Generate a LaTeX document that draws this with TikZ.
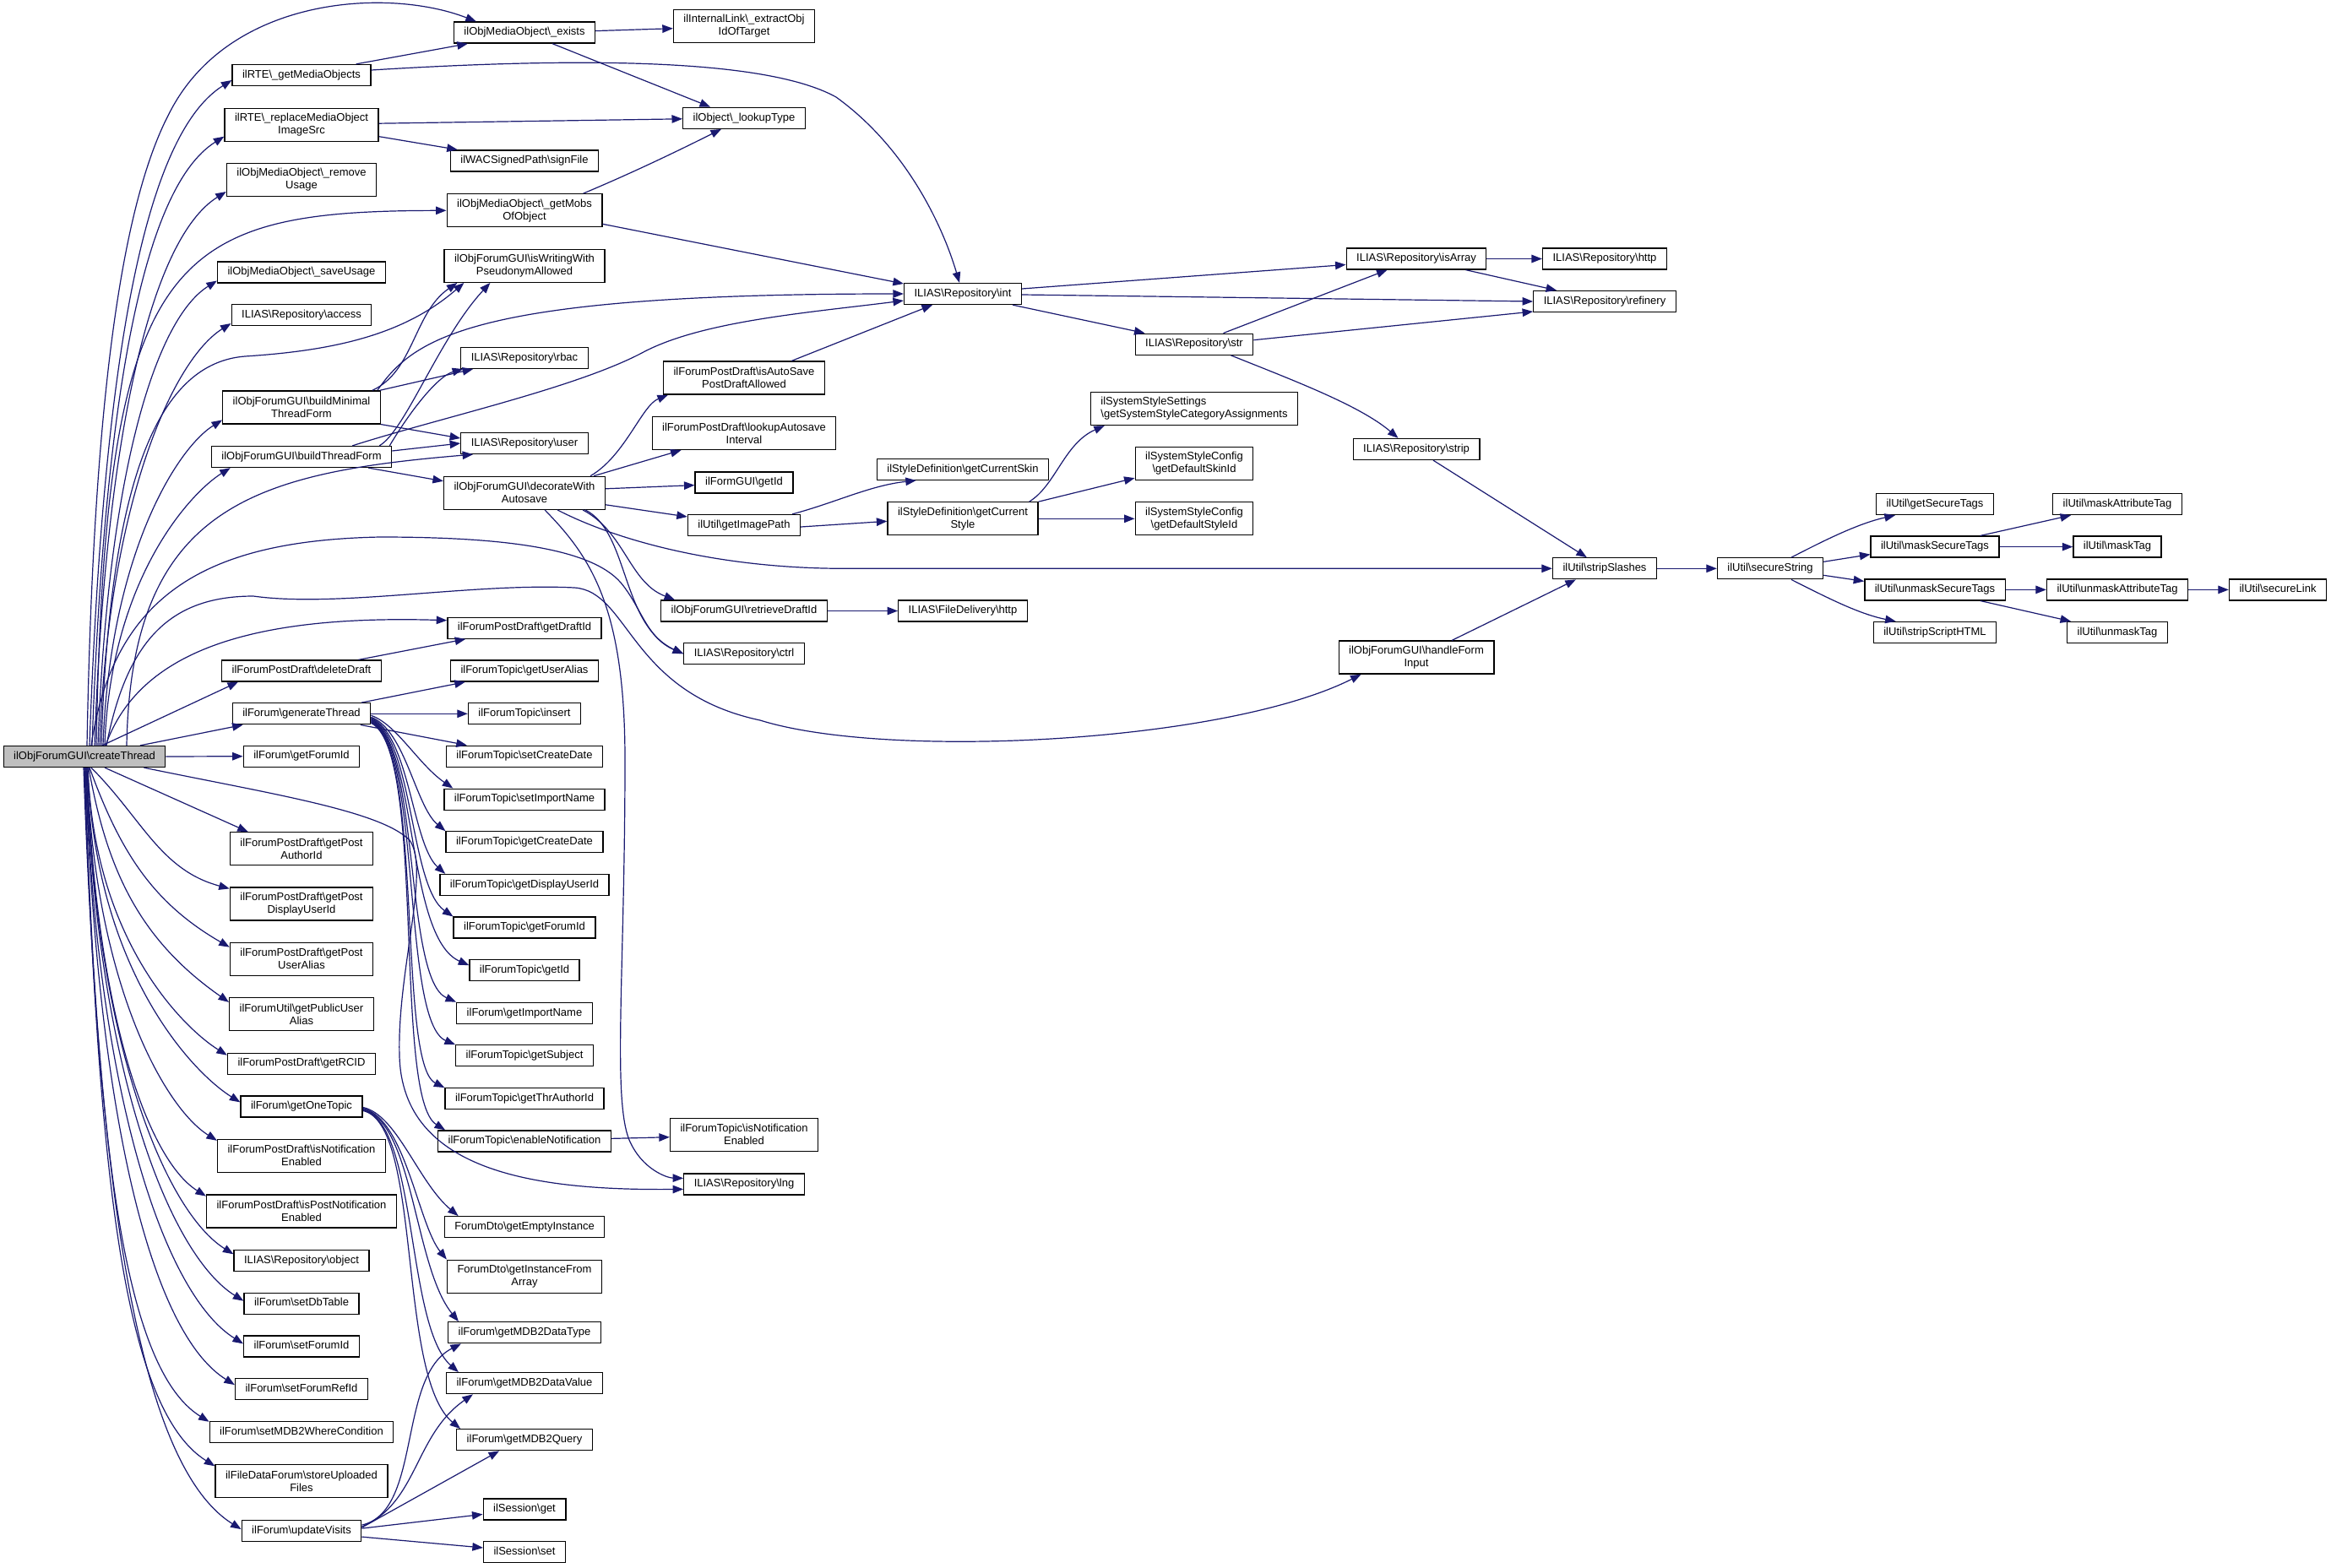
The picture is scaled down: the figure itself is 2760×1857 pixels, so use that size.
\documentclass[tikz,border=0pt]{standalone}
\usepackage{fontspec}
\setmainfont{Liberation Sans}
\usetikzlibrary{arrows.meta}
\definecolor{edgecol}{HTML}{191970}
\definecolor{ctfill}{HTML}{BFBFBF}
\newcommand\bsl{\textbackslash}
\begin{document}
\begin{tikzpicture}[x=1pt,y=1pt,
  box/.style={draw=black,line width=1.3pt,fill=white,inner xsep=12pt,inner ysep=0pt,font=\fontsize{13}{15}\selectfont,align=center},
  one/.style={box,minimum height=25pt,text height=9.5pt,text depth=3pt},
  two/.style={box,minimum height=39pt},
  ed/.style={draw=edgecol,line width=1.2pt,-{Triangle[length=12.5pt,width=9.5pt]}},
  fu/.style={out=88,in=212,out looseness=1.4,in looseness=0.4},
  fd/.style={out=-88,in=148,out looseness=1.4,in looseness=0.4}]
\fill[white] (0,0) rectangle (2760,-1857);
\useasboundingbox (0,0) rectangle (2760,-1857);

% ---------- nodes ----------
\node[one,fill=ctfill] (ct) at (100,-896) {ilObjForumGUI\bsl{}createThread};
% column 2
\node[one] (rteget) at (357,-89) {ilRTE\bsl\_getMediaObjects};
\node[two] (rterep) at (357,-147.7) {ilRTE\bsl\_replaceMediaObject\\ImageSrc};
\node[two] (mobrem) at (357,-213) {ilObjMediaObject\bsl\_remove\\Usage};
\node[one] (mobsave) at (357,-322.5) {ilObjMediaObject\bsl\_saveUsage};
\node[one] (access) at (357,-373) {ILIAS\bsl{}Repository\bsl{}access};
\node[two] (bmin) at (357,-482.4) {ilObjForumGUI\bsl{}buildMinimal\\ThreadForm};
\node[one] (bthr) at (357,-541) {ilObjForumGUI\bsl{}buildThreadForm};
\node[one] (deldraft) at (357,-794.5) {ilForumPostDraft\bsl{}deleteDraft};
\node[one] (genthr) at (357,-845.3) {ilForum\bsl{}generateThread};
\node[one] (getfid) at (357,-895.7) {ilForum\bsl{}getForumId};
\node[two] (pauth) at (357,-1005.3) {ilForumPostDraft\bsl{}getPost\\AuthorId};
\node[two] (pdisp) at (357,-1070.4) {ilForumPostDraft\bsl{}getPost\\DisplayUserId};
\node[two] (palias) at (357,-1135.7) {ilForumPostDraft\bsl{}getPost\\UserAlias};
\node[two] (pubalias) at (357,-1200.9) {ilForumUtil\bsl{}getPublicUser\\Alias};
\node[one] (rcid) at (357,-1259.7) {ilForumPostDraft\bsl{}getRCID};
\node[one] (onetopic) at (357,-1310.4) {ilForum\bsl{}getOneTopic};
\node[two] (isnotif) at (357,-1368.8) {ilForumPostDraft\bsl{}isNotification\\Enabled};
\node[two] (ispnotif) at (357,-1434.6) {ilForumPostDraft\bsl{}isPostNotification\\Enabled};
\node[one] (object) at (357,-1493.3) {ILIAS\bsl{}Repository\bsl{}object};
\node[one] (setdb) at (357,-1543.7) {ilForum\bsl{}setDbTable};
\node[one] (setfid) at (357,-1594.4) {ilForum\bsl{}setForumId};
\node[one] (setref) at (357,-1645.1) {ilForum\bsl{}setForumRefId};
\node[one] (setwhere) at (357,-1695.8) {ilForum\bsl{}setMDB2WhereCondition};
\node[two] (store) at (357,-1754.3) {ilFileDataForum\bsl{}storeUploaded\\Files};
\node[one] (visits) at (357,-1813.1) {ilForum\bsl{}updateVisits};
% column 3
\node[one] (exists) at (621,-38.6) {ilObjMediaObject\bsl\_exists};
\node[one] (sign) at (621,-190.4) {ilWACSignedPath\bsl{}signFile};
\node[two] (getmobs) at (621,-249.3) {ilObjMediaObject\bsl\_getMobs\\OfObject};
\node[two] (iswrite) at (621,-314.8) {ilObjForumGUI\bsl{}isWritingWith\\PseudonymAllowed};
\node[one] (rbac) at (621,-423.9) {ILIAS\bsl{}Repository\bsl{}rbac};
\node[one] (user) at (621,-525) {ILIAS\bsl{}Repository\bsl{}user};
\node[two] (deco) at (621,-583.8) {ilObjForumGUI\bsl{}decorateWith\\Autosave};
\node[one] (draftid) at (621,-743.7) {ilForumPostDraft\bsl{}getDraftId};
\node[one] (tualias) at (621,-794.5) {ilForumTopic\bsl{}getUserAlias};
\node[one] (tinsert) at (621,-845.3) {ilForumTopic\bsl{}insert};
\node[one] (tsetcd) at (621,-895.7) {ilForumTopic\bsl{}setCreateDate};
\node[one] (tsetin) at (621,-946.7) {ilForumTopic\bsl{}setImportName};
\node[one] (tgetcd) at (621,-997.3) {ilForumTopic\bsl{}getCreateDate};
\node[one] (tdisp) at (621,-1048) {ilForumTopic\bsl{}getDisplayUserId};
\node[one] (tfid) at (621,-1098.6) {ilForumTopic\bsl{}getForumId};
\node[one] (tid) at (621,-1149.2) {ilForumTopic\bsl{}getId};
\node[one] (fimp) at (621,-1199.8) {ilForum\bsl{}getImportName};
\node[one] (tsubj) at (621,-1250.3) {ilForumTopic\bsl{}getSubject};
\node[one] (tthr) at (621,-1301.2) {ilForumTopic\bsl{}getThrAuthorId};
\node[one] (tenable) at (621,-1351.4) {ilForumTopic\bsl{}enableNotification};
\node[one] (dtoempty) at (621,-1453.2) {ForumDto\bsl{}getEmptyInstance};
\node[two] (dtoarr) at (621,-1511.7) {ForumDto\bsl{}getInstanceFrom\\Array};
\node[one] (mdbtype) at (621,-1578.3) {ilForum\bsl{}getMDB2DataType};
\node[one] (mdbval) at (621,-1638.2) {ilForum\bsl{}getMDB2DataValue};
\node[one] (mdbq) at (621,-1705.2) {ilForum\bsl{}getMDB2Query};
\node[one] (sget) at (621,-1787.4) {ilSession\bsl{}get};
\node[one] (sset) at (621,-1838) {ilSession\bsl{}set};
% column 4
\node[two] (extract) at (881,-30.7) {ilInternalLink\bsl\_extractObj\\IdOfTarget};
\node[one] (lookup) at (881,-139.8) {ilObject\bsl\_lookupType};
\node[two] (autosave) at (881,-447.6) {ilForumPostDraft\bsl{}isAutoSave\\PostDraftAllowed};
\node[two] (lookupas) at (881,-513) {ilForumPostDraft\bsl{}lookupAutosave\\Interval};
\node[one] (formid) at (881,-571.6) {ilFormGUI\bsl{}getId};
\node[one] (imgpath) at (881,-622) {ilUtil\bsl{}getImagePath};
\node[one] (retr) at (881,-723.5) {ilObjForumGUI\bsl{}retrieveDraftId};
\node[one] (ctrl) at (881,-774.3) {ILIAS\bsl{}Repository\bsl{}ctrl};
\node[two] (tisnotif) at (881,-1343.7) {ilForumTopic\bsl{}isNotification\\Enabled};
\node[one] (lng) at (881,-1402.4) {ILIAS\bsl{}Repository\bsl{}lng};
% column 5
\node[one] (int) at (1140,-348) {ILIAS\bsl{}Repository\bsl{}int};
\node[one] (cskin) at (1140,-555.8) {ilStyleDefinition\bsl{}getCurrentSkin};
\node[two] (cstyle) at (1140,-614.3) {ilStyleDefinition\bsl{}getCurrent\\Style};
\node[one] (fdhttp) at (1140,-723.5) {ILIAS\bsl{}FileDelivery\bsl{}http};
% column 6
\node[one] (str) at (1414,-407.7) {ILIAS\bsl{}Repository\bsl{}str};
\node[two,align=left] (sscat) at (1414,-484) {ilSystemStyleSettings\\\bsl{}getSystemStyleCategoryAssignments};
\node[two] (defskin) at (1414,-549) {ilSystemStyleConfig\\\bsl{}getDefaultSkinId};
\node[two] (defstyle) at (1414,-614.3) {ilSystemStyleConfig\\\bsl{}getDefaultStyleId};
% column 7
\node[one] (isarray) at (1677,-306.5) {ILIAS\bsl{}Repository\bsl{}isArray};
\node[one] (strip) at (1677,-532) {ILIAS\bsl{}Repository\bsl{}strip};
\node[two] (handle) at (1677,-778.6) {ilObjForumGUI\bsl{}handleForm\\Input};
% column 8
\node[one] (http) at (1900,-306.5) {ILIAS\bsl{}Repository\bsl{}http};
\node[one] (refinery) at (1900,-357) {ILIAS\bsl{}Repository\bsl{}refinery};
\node[one] (slashes) at (1900,-673.3) {ilUtil\bsl{}stripSlashes};
% columns 9-12
\node[one] (secstr) at (2096,-673.3) {ilUtil\bsl{}secureString};
\node[one] (getsec) at (2291,-597.1) {ilUtil\bsl{}getSecureTags};
\node[one] (masksec) at (2291,-647.6) {ilUtil\bsl{}maskSecureTags};
\node[one] (unmasksec) at (2291,-698.4) {ilUtil\bsl{}unmaskSecureTags};
\node[one] (script) at (2291,-749) {ilUtil\bsl{}stripScriptHTML};
\node[one] (maskattr) at (2507,-597.1) {ilUtil\bsl{}maskAttributeTag};
\node[one] (masktag) at (2507,-647.6) {ilUtil\bsl{}maskTag};
\node[one] (unmaskattr) at (2507,-698.4) {ilUtil\bsl{}unmaskAttributeTag};
\node[one] (unmasktag) at (2507,-749) {ilUtil\bsl{}unmaskTag};
\node[one] (seclink) at (2697,-698.4) {ilUtil\bsl{}secureLink};

% ---------- edges from createThread (upwards) ----------
\draw[ed] ([xshift=3pt]ct.north) .. controls (110,-500) and (140,-250) .. (200,-135) .. controls (270,5) and (460,15) .. ([xshift=27pt]exists.north west);
\draw[ed] ([xshift=6pt]ct.north) to[fu] ([yshift=-6pt]rteget.west);
\draw[ed] ([xshift=9pt]ct.north) to[fu] ([yshift=-14pt]rterep.west);
\draw[ed] ([xshift=12pt]ct.north) to[fu] ([yshift=-14pt]mobrem.west);
\draw[ed] ([xshift=14pt]ct.north) .. controls (125,-300) and (200,-250) .. (getmobs.west);
\draw[ed] ([xshift=16pt]ct.north) to[fu] ([yshift=-10pt]mobsave.west);
\draw[ed] ([xshift=18pt]ct.north) to[fu] ([yshift=-10pt]access.west);
\draw[ed] ([xshift=20pt]ct.north) .. controls (130,-560) and (190,-430) .. (290,-422) .. controls (400,-415) and (480,-395) .. ([xshift=24pt]iswrite.south west);
\draw[ed] ([xshift=22pt]ct.north) to[fu] ([yshift=-15pt]bmin.west);
\draw[ed] ([xshift=24pt]ct.north) to[fu] ([xshift=23pt]bthr.south west);
\draw[ed] ([xshift=50pt]ct.north) .. controls (155,-600) and (300,-560) .. ([xshift=15pt]user.south west);
\draw[ed] ([xshift=8pt]ct.north) .. controls (135,-700) and (250,-640) .. (450,-636) .. controls (600,-636) and (700,-650) .. (735,-690) .. controls (760,-720) and (765,-755) .. (ctrl.west);
\draw[ed] ([xshift=26pt]ct.north) .. controls (150,-760) and (200,-706) .. (300,-706) .. controls (400,-720) and (560,-690) .. (680,-696) .. controls (745,-700) and (745,-820) .. (900,-853) .. controls (1050,-900) and (1450,-880) .. ([xshift=27pt]handle.south west);
\draw[ed] ([xshift=25pt]ct.north) .. controls (165,-770) and (300,-728) .. ([yshift=9pt]draftid.west);
\draw[ed] ([xshift=21pt]ct.north) -- ([xshift=20pt]deldraft.south west);
\draw[ed] ([xshift=66pt]ct.north) -- ([xshift=13pt]genthr.south west);
\draw[ed] (ct.east) -- (getfid.west);
% ---------- edges from createThread (downwards) ----------
\draw[ed] ([xshift=24pt]ct.south) -- ([xshift=22pt]pauth.north west);
\draw[ed] ([xshift=8pt]ct.south) to[out=-45,in=165] ([yshift=18pt]pdisp.west);
\draw[ed] ([xshift=6pt]ct.south) to[out=-70,in=150] ([yshift=14pt]palias.west);
\draw[ed] ([xshift=5pt]ct.south) to[out=-80,in=145] ([yshift=14pt]pubalias.west);
\draw[ed] ([xshift=4pt]ct.south) to[fd] ([yshift=10pt]rcid.west);
\draw[ed] ([xshift=4pt]ct.south) to[fd] ([yshift=5pt]onetopic.west);
\draw[ed] ([xshift=3pt]ct.south) to[fd] ([yshift=18pt]isnotif.west);
\draw[ed] ([xshift=3pt]ct.south) to[fd] ([yshift=18pt]ispnotif.west);
\draw[ed] ([xshift=2pt]ct.south) to[fd] ([yshift=8pt]object.west);
\draw[ed] ([xshift=2pt]ct.south) to[fd] ([yshift=3pt]setdb.west);
\draw[ed] ([xshift=1pt]ct.south) to[fd] ([yshift=3pt]setfid.west);
\draw[ed] ([xshift=1pt]ct.south) to[fd] ([yshift=5pt]setref.west);
\draw[ed] (ct.south) to[fd] ([yshift=12pt]setwhere.west);
\draw[ed] (ct.south) to[fd] ([yshift=18pt]store.west);
\draw[ed] ([xshift=-1pt]ct.south) to[fd] ([yshift=2pt]visits.west);
\draw[ed] ([xshift=-26pt]ct.south east) .. controls (320,-940) and (450,-960) .. (485,-995) .. controls (510,-1030) and (470,-1150) .. (473,-1250) .. controls (476,-1390) and (640,-1410) .. ([yshift=-6pt]lng.west);

% ---------- column 2 -> column 3/4/5 ----------
\draw[ed] ([xshift=-18pt]rteget.north east) -- ([xshift=17pt]exists.south west);
\draw[ed] ([yshift=6pt]rteget.east) .. controls (650,-70) and (900,-65) .. (990,-115) .. controls (1080,-180) and (1120,-280) .. ([xshift=-4pt]int.north);
\draw[ed] ([yshift=1.5pt]rterep.east) -- ([yshift=-1pt]lookup.west);
\draw[ed] ([yshift=-14pt]rterep.east) -- ([xshift=9pt]sign.north west);
\draw[ed] ([yshift=2pt]exists.east) -- ([yshift=-3pt]extract.west);
\draw[ed] ([xshift=-51pt]exists.south east) -- ([xshift=33pt]lookup.north west);
\draw[ed] ([xshift=-23pt]getmobs.north east) .. controls (760,-200) and (820,-170) .. ([xshift=46pt]lookup.south west);
\draw[ed] ([yshift=-16pt]getmobs.east) -- ([yshift=12pt]int.west);
\draw[ed] ([xshift=-10pt]bmin.north east) .. controls (490,-440) and (490,-370) .. ([xshift=16pt]iswrite.south west);
\draw[ed] ([xshift=-15pt]bthr.north east) .. controls (480,-510) and (520,-400) .. ([xshift=55pt]iswrite.south west);
\draw[ed] ([xshift=-1pt]bmin.north east) -- ([xshift=15pt]rbac.south west);
\draw[ed] ([xshift=-3pt]bthr.north east) .. controls (490,-480) and (520,-445) .. ([xshift=3pt]rbac.south west);
\draw[ed] (bmin.south east) -- ([yshift=6pt]user.west);
\draw[ed] ([yshift=7pt]bthr.east) -- (user.west);
\draw[ed] ([xshift=-28pt]bthr.south east) -- ([yshift=14pt]deco.west);
\draw[ed] ([xshift=-4pt]bmin.north east) .. controls (490,-400) and (560,-348) .. (int.west);
\draw[ed] ([xshift=-47pt]bthr.north east) .. controls (520,-495) and (680,-460) .. (760,-418) .. controls (830,-380) and (960,-370) .. ([yshift=-8pt]int.west);
\draw[ed] ([xshift=-27.5pt]deldraft.north east) -- ([xshift=22pt]draftid.south west);
% decorateWithAutosave
\draw[ed] ([xshift=-18pt]deco.north east) .. controls (740,-540) and (760,-480) .. ([xshift=6pt]autosave.south west);
\draw[ed] ([xshift=-14pt]deco.north east) -- ([xshift=35pt]lookupas.south west);
\draw[ed] ([yshift=5pt]deco.east) -- ([yshift=-3pt]formid.west);
\draw[ed] ([yshift=-14pt]deco.east) -- ([yshift=10pt]imgpath.west);
\draw[ed] ([xshift=-27pt]deco.south east) .. controls (740,-630) and (745,-690) .. ([xshift=17pt]retr.north west);
\draw[ed] ([xshift=-24pt]deco.south east) .. controls (745,-630) and (735,-740) .. (ctrl.west);
\draw[ed] ([xshift=-57pt]deco.south east) .. controls (730,-640) and (850,-673.3) .. (1000,-673.3) -- (slashes.west);
\draw[ed] ([xshift=-72pt]deco.south east) .. controls (700,-660) and (740,-720) .. (740,-900) .. controls (740,-1150) and (725,-1300) .. (745,-1350) .. controls (760,-1385) and (790,-1395) .. ([yshift=7pt]lng.west);
% generateThread
\draw[ed] ([xshift=-11.6pt]genthr.north east) -- ([xshift=18pt]tualias.south west);
\draw[ed] (genthr.east) -- (tinsert.west);
\draw[ed] ([xshift=-12.6pt]genthr.south east) -- ([xshift=25pt]tsetcd.north west);
\draw[ed] ([yshift=-2pt]genthr.east) .. controls (470,-858) and (495,-905) .. ([xshift=11pt]tsetin.north west);
\draw[ed] ([yshift=-4pt]genthr.east) .. controls (480,-865) and (492,-955) .. (tgetcd.north west);
\draw[ed] ([yshift=-5pt]genthr.east) .. controls (485,-870) and (488,-1000) .. ([xshift=7pt]tdisp.north west);
\draw[ed] ([yshift=-6pt]genthr.east) .. controls (490,-875) and (485,-1050) .. (tfid.north west);
\draw[ed] ([yshift=-7pt]genthr.east) .. controls (495,-880) and (480,-1110) .. ([yshift=6pt]tid.west);
\draw[ed] ([yshift=-8pt]genthr.east) .. controls (498,-882) and (478,-1160) .. (fimp.north west);
\draw[ed] ([yshift=-9pt]genthr.east) .. controls (500,-884) and (475,-1210) .. (tsubj.north west);
\draw[ed] ([yshift=-10pt]genthr.east) .. controls (502,-886) and (470,-1260) .. (tthr.north west);
\draw[ed] ([yshift=-11pt]genthr.east) .. controls (505,-888) and (465,-1300) .. ([xshift=9pt]tenable.north west);
\draw[ed] ([yshift=3pt]tenable.east) -- ([yshift=-3pt]tisnotif.west);
% getOneTopic
\draw[ed] ([yshift=-1pt]onetopic.east) .. controls (470,-1320) and (495,-1400) .. ([xshift=17pt]dtoempty.north west);
\draw[ed] ([yshift=-2pt]onetopic.east) .. controls (480,-1325) and (495,-1450) .. (dtoarr.north west);
\draw[ed] ([yshift=-3pt]onetopic.east) .. controls (490,-1330) and (490,-1500) .. ([xshift=13pt]mdbtype.north west);
\draw[ed] ([yshift=-4pt]onetopic.east) .. controls (495,-1330) and (480,-1570) .. ([xshift=15pt]mdbval.north west);
\draw[ed] ([yshift=-5pt]onetopic.east) .. controls (500,-1330) and (470,-1630) .. ([xshift=5pt]mdbq.north west);
% updateVisits
\draw[ed] ([yshift=7pt]visits.east) .. controls (500,-1790) and (470,-1630) .. ([xshift=16pt]mdbtype.south west);
\draw[ed] ([yshift=5pt]visits.east) .. controls (495,-1780) and (490,-1700) .. ([xshift=32pt]mdbval.south west);
\draw[ed] ([yshift=4pt]visits.east) -- ([xshift=51pt]mdbq.south west);
\draw[ed] ([yshift=3pt]visits.east) -- ([yshift=-6pt]sget.west);
\draw[ed] ([yshift=-7pt]visits.east) -- ([yshift=5pt]sset.west);
% column 4 onwards
\draw[ed] ([xshift=-40pt]autosave.north east) -- ([xshift=-36pt]int.south);
\draw[ed] ([xshift=-10pt]imgpath.north east) .. controls (990,-595) and (1030,-575) .. ([xshift=47pt]cskin.south west);
\draw[ed] ([yshift=-2pt]imgpath.east) -- ([yshift=-3pt]cstyle.west);
\draw[ed] ([xshift=-11pt]cstyle.north east) .. controls (1250,-575) and (1260,-525) .. ([xshift=17pt]sscat.south west);
\draw[ed] (cstyle.north east) -- ([yshift=3pt]defskin.south west);
\draw[ed] (cstyle.east) -- (defstyle.west);
\draw[ed] (retr.east) -- (fdhttp.west);
\draw[ed] ([yshift=6pt]int.east) -- ([yshift=-7pt]isarray.west);
\draw[ed] ([yshift=-1pt]int.east) -- (refinery.west);
\draw[ed] ([xshift=-11pt]int.south east) -- ([xshift=12pt]str.north west);
\draw[ed] ([xshift=-36pt]str.north east) -- ([xshift=49pt]isarray.south west);
\draw[ed] ([yshift=5pt]str.east) -- ([yshift=-12pt]refinery.west);
\draw[ed] ([xshift=-27pt]str.south east) .. controls (1530,-450) and (1610,-480) .. ([xshift=54pt]strip.north west);
\draw[ed] (isarray.east) -- (http.west);
\draw[ed] ([xshift=-25pt]isarray.south east) -- ([xshift=28pt]refinery.north west);
\draw[ed] ([xshift=20pt]strip.south) -- ([xshift=41pt]slashes.north west);
\draw[ed] ([xshift=42pt]handle.north) -- ([xshift=28pt]slashes.south west);
\draw[ed] (slashes.east) -- (secstr.west);
\draw[ed] ([xshift=25pt]secstr.north) .. controls (2160,-640) and (2200,-620) .. ([xshift=23pt]getsec.south west);
\draw[ed] ([yshift=8pt]secstr.east) -- ([yshift=-9pt]masksec.west);
\draw[ed] ([yshift=-8pt]secstr.east) -- ([yshift=10pt]unmasksec.west);
\draw[ed] ([xshift=25pt]secstr.south) .. controls (2160,-706) and (2200,-727) .. ([xshift=27pt]script.north west);
\draw[ed] ([xshift=-23pt]masksec.north east) -- ([xshift=22pt]maskattr.south west);
\draw[ed] (masksec.east) -- (masktag.west);
\draw[ed] (unmasksec.east) -- (unmaskattr.west);
\draw[ed] ([xshift=-30pt]unmasksec.south east) -- ([xshift=5pt]unmasktag.north west);
\draw[ed] (unmaskattr.east) -- (seclink.west);
\end{tikzpicture}
\end{document}
